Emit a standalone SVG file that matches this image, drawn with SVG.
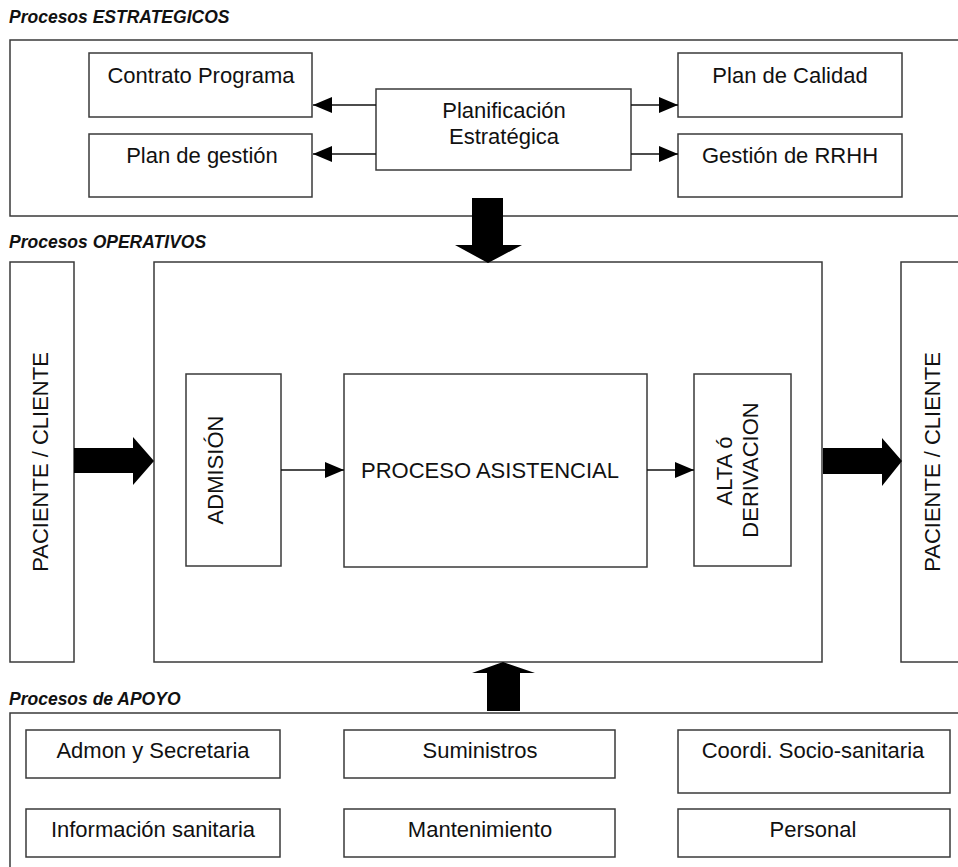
<svg xmlns="http://www.w3.org/2000/svg" width="958" height="867" viewBox="0 0 958 867">
<style>
.box{fill:#fff;stroke:#3a3a3a;stroke-width:1.5}
.t{font-family:"Liberation Sans",Arial,sans-serif;font-size:22px;fill:#111;text-anchor:middle}
.title{font-family:"Liberation Sans",Arial,sans-serif;font-size:17.5px;font-weight:bold;font-style:italic;fill:#111}
.ln{stroke:#111;stroke-width:1.6;fill:none}
.big{fill:#000}
</style>
<defs>
<marker id="ah" markerUnits="userSpaceOnUse" markerWidth="19" markerHeight="16" refX="19" refY="8" orient="auto">
<path d="M0,0 L19,8 L0,16 z" fill="#000"/>
</marker>
</defs>
<rect width="958" height="867" fill="#fff"/>

<g id="estrategicos">
<text class="title" x="9" y="23">Procesos ESTRATEGICOS</text>
<rect class="box" x="10" y="40" width="960" height="176"/>
</g>
<g id="contrato"><rect class="box" x="89" y="53" width="223" height="64"/><text class="t" x="201" y="83">Contrato Programa</text></g>
<g id="plangestion"><rect class="box" x="89" y="134" width="223" height="63"/><text class="t" x="202" y="163">Plan de gestión</text></g>
<g id="planificacion"><rect class="box" x="376" y="89" width="255" height="81"/><text class="t" x="504" y="118">Planificación</text><text class="t" x="504" y="144">Estratégica</text></g>
<g id="calidad"><rect class="box" x="678" y="53" width="224" height="64"/><text class="t" x="790" y="83">Plan de Calidad</text></g>
<g id="rrhh"><rect class="box" x="678" y="134" width="224" height="63"/><text class="t" x="790" y="163">Gestión de RRHH</text></g>

<g id="operativos">
<text class="title" x="9" y="248">Procesos OPERATIVOS</text>
<rect class="box" x="154" y="262" width="668" height="400"/>
</g>
<g id="paciente-in"><rect class="box" x="10" y="262" width="64" height="400"/><text class="t" transform="translate(48,462) rotate(-90)">PACIENTE / CLIENTE</text></g>
<g id="paciente-out"><rect class="box" x="901" y="262" width="80" height="400"/><text class="t" transform="translate(940,462) rotate(-90)">PACIENTE / CLIENTE</text></g>
<g id="admision"><rect class="box" x="186" y="374" width="95" height="192"/><text class="t" transform="translate(223,470) rotate(-90)">ADMISIÓN</text></g>
<g id="asistencial"><rect class="box" x="344" y="374" width="303" height="193"/><text class="t" x="490" y="478">PROCESO ASISTENCIAL</text></g>
<g id="alta"><rect class="box" x="694" y="374" width="97" height="192"/><text class="t" transform="translate(732,471) rotate(-90)">ALTA ó</text><text class="t" transform="translate(758,470) rotate(-90)">DERIVACION</text></g>

<g id="apoyo">
<text class="title" x="9" y="705">Procesos de APOYO</text>
<rect class="box" x="10" y="713" width="960" height="200"/>
</g>
<g id="admon"><rect class="box" x="26" y="730" width="254" height="48"/><text class="t" x="153" y="758">Admon y Secretaria</text></g>
<g id="infosan"><rect class="box" x="26" y="809" width="254" height="48"/><text class="t" x="153" y="837">Información sanitaria</text></g>
<g id="suministros"><rect class="box" x="344" y="730" width="271" height="48"/><text class="t" x="480" y="758">Suministros</text></g>
<g id="mantenimiento"><rect class="box" x="344" y="809" width="271" height="48"/><text class="t" x="480" y="837">Mantenimiento</text></g>
<g id="coordi"><rect class="box" x="678" y="730" width="272" height="63"/><text class="t" x="813" y="758">Coordi. Socio-sanitaria</text></g>
<g id="personal"><rect class="box" x="678" y="809" width="272" height="48"/><text class="t" x="813" y="837">Personal</text></g>

<g id="connectors">
<line class="ln" x1="376" y1="105" x2="313" y2="105" marker-end="url(#ah)"/>
<line class="ln" x1="376" y1="154" x2="313" y2="154" marker-end="url(#ah)"/>
<line class="ln" x1="631" y1="105" x2="678" y2="105" marker-end="url(#ah)"/>
<line class="ln" x1="631" y1="154" x2="678" y2="154" marker-end="url(#ah)"/>
<line class="ln" x1="281" y1="470" x2="344" y2="470" marker-end="url(#ah)"/>
<line class="ln" x1="647" y1="470" x2="694" y2="470" marker-end="url(#ah)"/>
<polygon class="big" points="472,198 503,198 503,245 522,245 488,263 455,245 472,245"/>
<polygon class="big" points="503,662 535,673 520,673 520,711 487,711 487,673 472,673"/>
<polygon class="big" points="74,448 133,448 133,437 154,461 133,485 133,473 74,473"/>
<polygon class="big" points="823,448 882,448 882,438 902,461 882,486 882,474 823,474"/>
</g>
</svg>
